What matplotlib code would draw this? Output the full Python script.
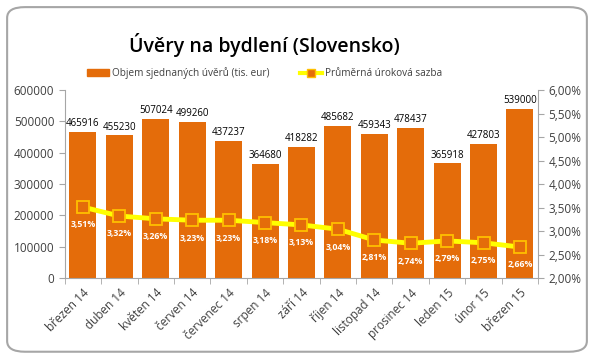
import numpy as np
import matplotlib.pyplot as plt
from matplotlib.patches import FancyBboxPatch
from matplotlib.lines import Line2D
from matplotlib.patches import Patch

mesice = ['březen 14', 'duben 14', 'květen 14', 'červen 14', 'červenec 14', 'srpen 14',
          'září 14', 'říjen 14', 'listopad 14', 'prosinec 14', 'leden 15', 'únor 15', 'březen 15']
objem = [465916, 455230, 507024, 499260, 437237, 364680, 418282, 485682,
         459343, 478437, 365918, 427803, 539000]
sazba = [3.51, 3.32, 3.26, 3.23, 3.23, 3.18, 3.13, 3.04, 2.81, 2.74, 2.79, 2.75, 2.66]

oranzova = '#E46C0A'
zluta = '#FFFF00'
okraj = '#FFC000'
plt.rcParams['font.family'] = ['Open Sans', 'DejaVu Sans']

fig = plt.figure(figsize=(5.94, 3.56), dpi=100)
ramecek = FancyBboxPatch((0.012, 0.012), 0.976, 0.968, boxstyle='round,pad=0,rounding_size=0.03',
                         transform=fig.transFigure, facecolor='white', edgecolor='#A6A6A6', lw=1.5, zorder=-5)
fig.patches.append(ramecek)

ax = fig.add_axes([0.109, 0.219, 0.797, 0.528])
ax.patch.set_alpha(0)
x = np.arange(len(mesice))
ax.bar(x, objem, width=0.74, color=oranzova, zorder=2)
for xi, v in zip(x, objem):
    ax.text(xi, v + 9000, str(v), ha='center', va='bottom', fontsize=7, color='black')

ax.set_ylim(0, 600000)
ax.set_xlim(-0.5, len(mesice) - 0.5)
ax.set_yticks(np.arange(0, 600001, 100000))
ax.tick_params(axis='y', labelsize=8.5, colors='#404040', length=4, direction='out')
ax.set_xticks(x)
ax.set_xticklabels(mesice, rotation=45, ha='right', rotation_mode='anchor', fontsize=8.5, color='#404040')
ax.set_xticks(np.arange(-0.5, len(mesice), 1), minor=True)
ax.tick_params(axis='x', which='major', length=0, pad=6)
ax.tick_params(axis='x', which='minor', length=4, color='#A6A6A6')
for s in ['top', 'right']:
    ax.spines[s].set_visible(False)
for s in ['left', 'bottom']:
    ax.spines[s].set_color('#A6A6A6')
ax.tick_params(axis='y', color='#A6A6A6')

ax2 = ax.twinx()
ax2.plot(x, sazba, color=zluta, lw=3.5, marker='s', markersize=8.5, markerfacecolor=oranzova,
         markeredgecolor=okraj, markeredgewidth=1.3, zorder=3)
for xi, v in zip(x, sazba):
    ax2.text(xi, v - 0.38, ('%.2f%%' % v).replace('.', ','), ha='center', va='center',
             fontsize=6.3, color='white', fontweight='bold')
ax2.set_ylim(2, 6)
ax2.set_yticks(np.arange(2, 6.01, 0.5))
ax2.set_yticklabels([('%.2f%%' % t).replace('.', ',') for t in np.arange(2, 6.01, 0.5)])
ax2.tick_params(axis='y', labelsize=8.5, colors='#404040', length=4)
ax2.tick_params(axis='y', color='#A6A6A6')
for s in ['top', 'left', 'bottom']:
    ax2.spines[s].set_visible(False)
ax2.spines['right'].set_color('#A6A6A6')

fig.text(0.445, 0.874, 'Úvěry na bydlení (Slovensko)', ha='center', va='center', fontsize=14,
         color='black', fontweight='semibold')

handles = [Patch(color=oranzova, label='Objem sjednaných úvěrů (tis. eur)'),
           Line2D([0], [0], color=zluta, lw=3, marker='s', markersize=6, markerfacecolor=oranzova,
                  markeredgecolor=okraj, label='Průměrná úroková sazba')]
fig.legend(handles=handles, loc='center', bbox_to_anchor=(0.445, 0.795), ncol=2, frameon=False,
           fontsize=7.2, handlelength=2.2, handleheight=0.6, columnspacing=3, handletextpad=0.3,
           labelcolor='#404040')

fig.savefig('out.png', dpi=100)
